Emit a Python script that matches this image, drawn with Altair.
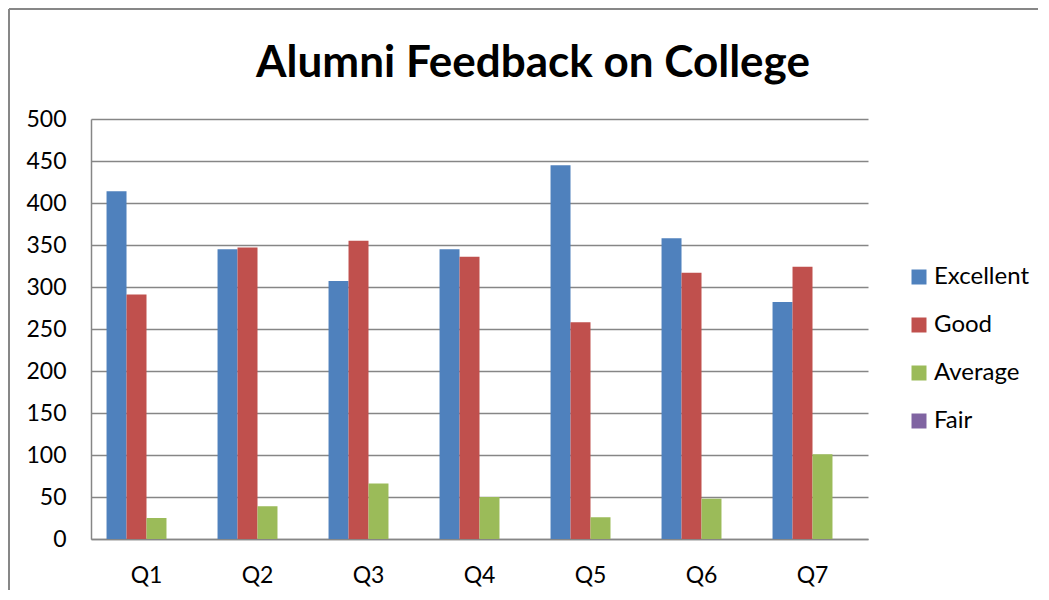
import altair as alt
import pandas as pd

questions = ["Q1", "Q2", "Q3", "Q4", "Q5", "Q6", "Q7"]
series = ["Excellent", "Good", "Average", "Fair"]
excellent = [414, 345, 307, 345, 445, 358, 282]
good = [291, 347, 355, 336, 258, 317, 324]
average = [25, 39, 66, 50, 26, 48, 101]
fair = [0, 0, 0, 0, 0, 0, 0]
colors = ["#4F81BD", "#C0504D", "#9BBB59", "#8064A2"]
title_text = "Alumni Feedback on College"
y_ticks = [0, 50, 100, 150, 200, 250, 300, 350, 400, 450, 500]

rows = []
for name, vals in zip(series, [excellent, good, average, fair]):
    for q, v in zip(questions, vals):
        rows.append({"Question": q, "Rating": name, "Count": v})
df = pd.DataFrame(rows)

FONT = "Lato"
GRID = "#868686"

bars = alt.Chart(df).mark_bar().encode(
    x=alt.X("Question:N", sort=questions, title=None,
            scale=alt.Scale(paddingInner=0.28, paddingOuter=0.14),
            axis=alt.Axis(labelAngle=0, ticks=False, labelPadding=25,
                          labelFontSize=23, labelFont=FONT, labelColor="#000000",
                          domainColor=GRID, domainWidth=1.5, grid=False)),
    xOffset=alt.XOffset("Rating:N", sort=series, scale=alt.Scale(paddingInner=0, paddingOuter=0)),
    y=alt.Y("Count:Q", title=None,
            scale=alt.Scale(domain=[0, 500], nice=False),
            axis=alt.Axis(values=y_ticks, ticks=False, labelPadding=25,
                          labelFontSize=23, labelFont=FONT, labelColor="#000000",
                          domainColor=GRID, domainWidth=1.5,
                          grid=True, gridColor=GRID, gridWidth=1.5)),
    color=alt.Color("Rating:N", sort=series,
                    scale=alt.Scale(domain=series, range=colors),
                    legend=alt.Legend(title=None, orient="none", legendX=816, legendY=146,
                                      symbolType="square", symbolSize=225,
                                      symbolStrokeWidth=0, labelFontSize=24,
                                      labelFont=FONT, labelColor="#000000",
                                      labelOffset=3, rowPadding=24)),
)

title = alt.Chart(alt.Data(values=[{"t": title_text}])).mark_text(
    font=FONT, fontSize=44, fontWeight="bold", align="center",
    baseline="alphabetic", color="#000000"
).encode(x=alt.value(442), y=alt.value(-42), text="t:N")

border = alt.Chart(alt.Data(values=[{"a": 1}])).mark_rule(
    color="#878787", strokeWidth=2
)
top_line = border.encode(x=alt.value(-82), x2=alt.value(960), y=alt.value(-110))
left_line = border.encode(x=alt.value(-82), y=alt.value(-110), y2=alt.value(490))

chart = alt.layer(bars, title, top_line, left_line).properties(
    width=777, height=420,
    autosize=alt.AutoSizeParams(type="none"),
    padding={"left": 83, "top": 111, "right": 170, "bottom": 51},
).configure(background="#ffffff").configure_view(stroke="transparent", strokeWidth=0)

chart.save("out.html", embed_options={"renderer": "svg", "actions": False})
